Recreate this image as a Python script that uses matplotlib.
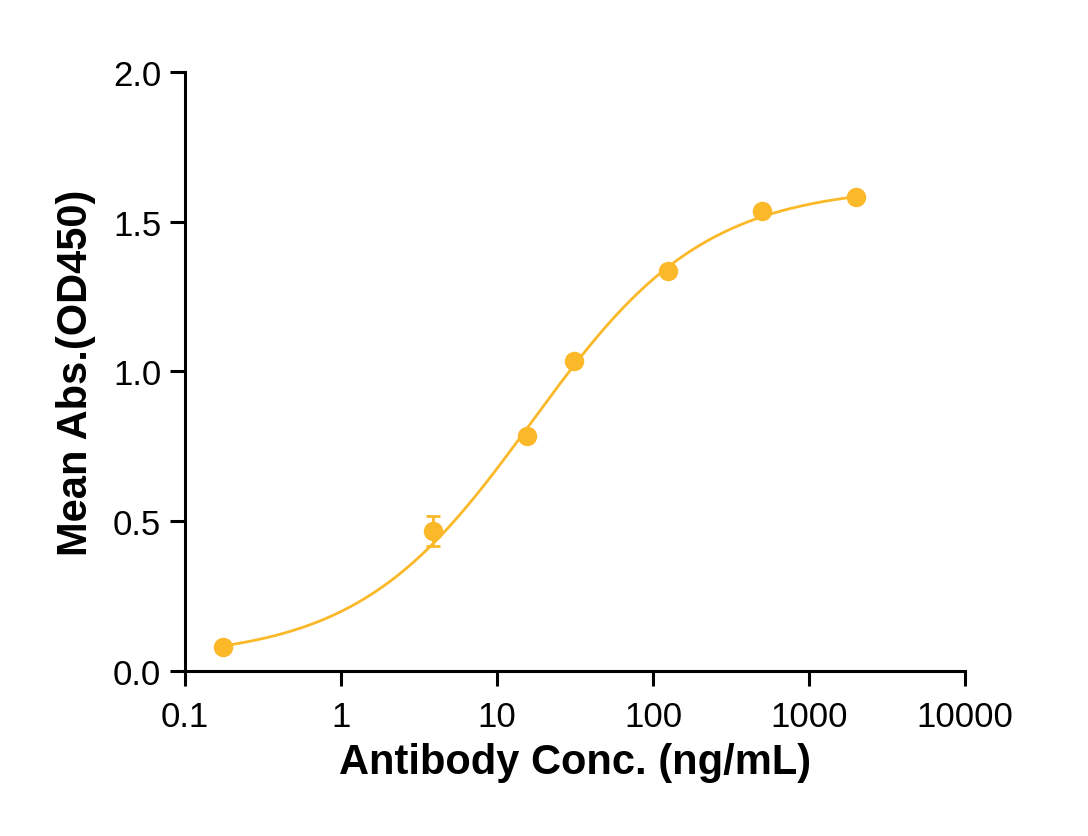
import matplotlib
matplotlib.use("Agg")
import matplotlib.pyplot as plt
import numpy as np

# measured points
conc = [0.176, 3.9, 15.6, 31.25, 125, 500, 2000]
mean_abs = [0.080, 0.467, 0.785, 1.035, 1.336, 1.536, 1.583]
err = [0.0, 0.05, 0.0, 0.0, 0.0, 0.0, 0.0]

# 4PL fit parameters (bottom, top, EC50, hill)
fit_bottom = 0.04
fit_top = 1.62
fit_ec50 = 16.6
fit_hill = 0.78

x_ticks = [0.1, 1, 10, 100, 1000, 10000]
x_ticklabels = ["0.1", "1", "10", "100", "1000", "10000"]
y_ticks = [0.0, 0.5, 1.0, 1.5, 2.0]

color = "#FBB829"

plt.rcParams['font.family'] = ['Liberation Sans', 'DejaVu Sans']

fig = plt.figure(figsize=(10.88, 8.37), dpi=100)
ax = fig.add_axes([0.170, 0.197, 0.717, 0.716])

xs = np.logspace(np.log10(conc[0]), np.log10(conc[-1]), 300)
ys = fit_bottom + (fit_top - fit_bottom) / (1 + (fit_ec50 / xs) ** fit_hill)
ax.plot(xs, ys, color=color, lw=2, zorder=2)

ax.errorbar(conc, mean_abs, yerr=err, fmt='o', color=color, ms=13,
            elinewidth=2, capsize=5, capthick=2, zorder=3)

ax.set_xscale('log')
ax.set_xlim(0.1, 10000)
ax.set_ylim(0, 2.0)
ax.set_xticks(x_ticks)
ax.set_xticklabels(x_ticklabels)
ax.xaxis.set_minor_locator(matplotlib.ticker.NullLocator())
ax.set_yticks(y_ticks)
ax.set_yticklabels(["%.1f" % v for v in y_ticks])

for s in ['top', 'right']:
    ax.spines[s].set_visible(False)
for s in ['left', 'bottom']:
    ax.spines[s].set_linewidth(2.2)
ax.tick_params(width=2.2, length=11, labelsize=25)
ax.tick_params(axis='x', pad=10)
ax.tick_params(axis='y', pad=6)

ax.set_xlabel('Antibody Conc. (ng/mL)', fontsize=30, fontweight='bold', labelpad=6)
ax.set_ylabel('Mean Abs.(OD450)', fontsize=30, fontweight='bold', labelpad=12)

plt.savefig('out.png', dpi=100)
